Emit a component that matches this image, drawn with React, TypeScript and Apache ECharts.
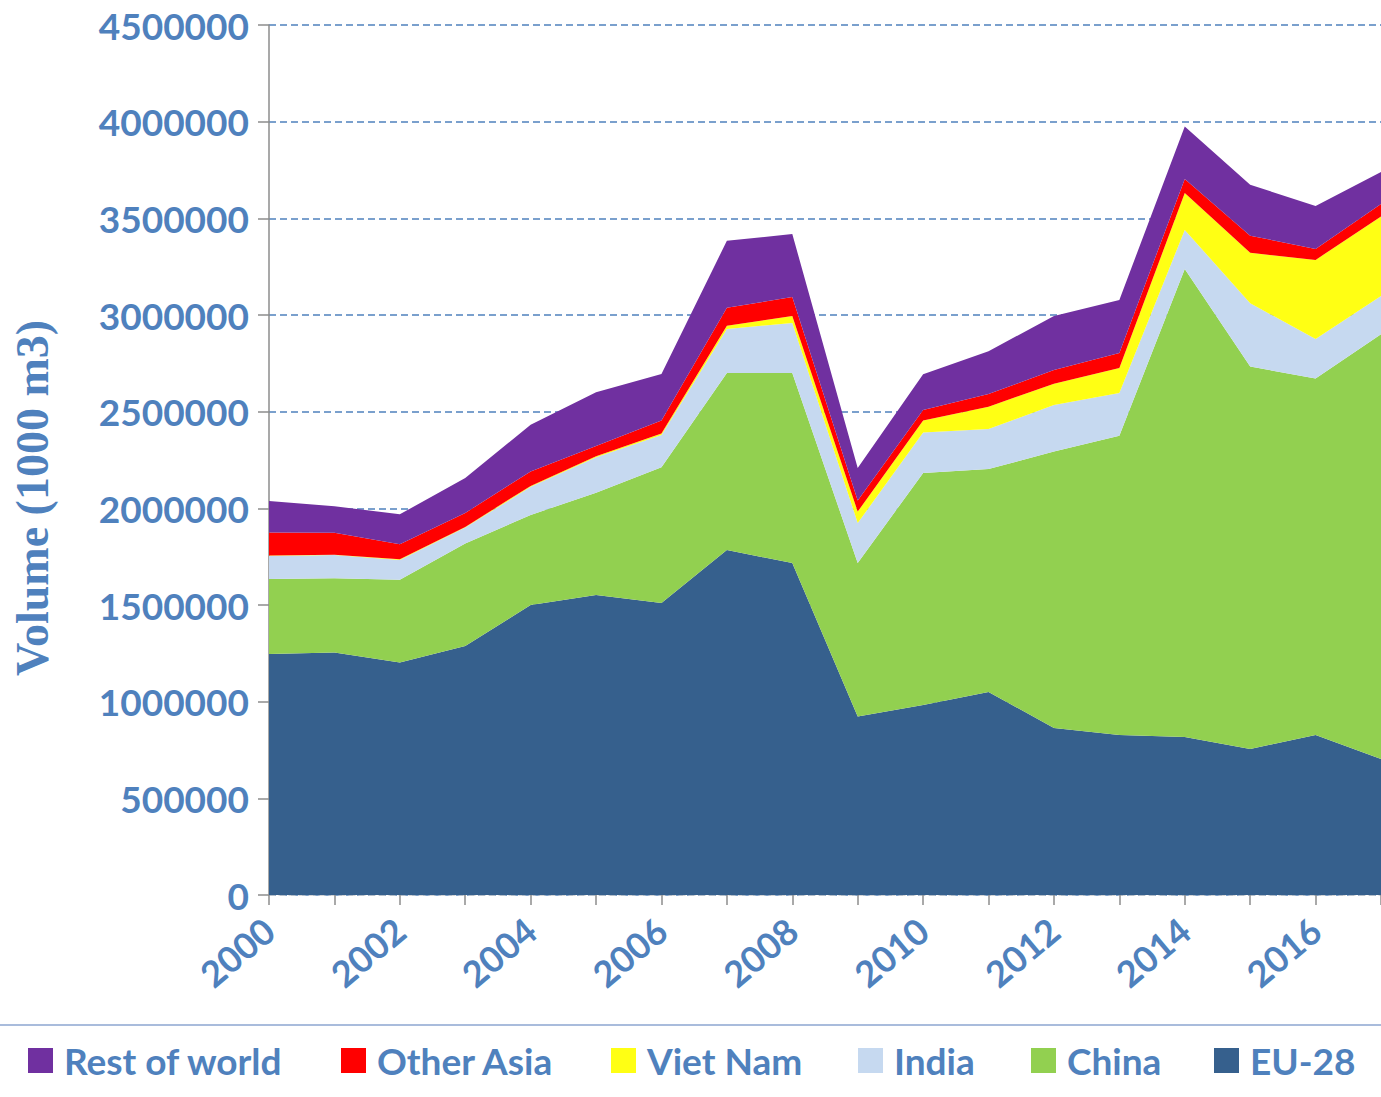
import React, { useEffect, useRef } from "react";
import * as echarts from "echarts";

const years = ["2000","2001","2002","2003","2004","2005","2006","2007","2008","2009","2010","2011","2012","2013","2014","2015","2016","2017"];

const eu28 = [1247000,1254000,1203000,1288000,1500000,1552000,1510000,1784000,1717000,923000,983000,1050000,864000,828000,817000,755000,828000,703000];
const china = [388000,385000,427000,530000,466000,528000,703000,916000,983000,794000,1200000,1153000,1430000,1547000,2421000,1978000,1844000,2198000];
const india = [119000,119000,103000,83000,145000,184000,166000,228000,259000,207000,209000,207000,241000,222000,202000,328000,204000,197000];
const vietNam = [2000,2000,3000,3000,5000,5000,8000,16000,36000,59000,62000,116000,109000,129000,191000,261000,409000,411000];
const otherAsia = [119000,114000,78000,72000,75000,54000,67000,93000,98000,57000,54000,65000,72000,78000,72000,88000,57000,65000];
const restOfWorld = [163000,137000,155000,181000,241000,277000,241000,347000,326000,168000,186000,222000,279000,274000,272000,264000,222000,166000];

const seriesNames = ["EU-28", "China", "India", "Viet Nam", "Other Asia", "Rest of world"];
const seriesData = [eu28, china, india, vietNam, otherAsia, restOfWorld];
const seriesColors = ["#36608d", "#92d050", "#c6d9f0", "#ffff14", "#ff0000", "#7030a0"];

const legendOrder = ["Rest of world", "Other Asia", "Viet Nam", "India", "China", "EU-28"];
const legendLeft = [28, 341, 611, 858, 1031, 1214];

const BLUE = "#4f81bd";
const FONT = "Lato";

export default function App() {
  const ref = useRef<HTMLDivElement>(null);
  useEffect(() => {
    if (!ref.current) return;
    const chart = echarts.init(ref.current, null, { renderer: "svg" });
    const legends = legendOrder.map((name, i) => ({
      data: [name],
      left: legendLeft[i],
      top: 1042,
      orient: "horizontal",
      itemWidth: 25,
      itemHeight: 25,
      icon: "rect",
      padding: 0,
      selectedMode: false,
      textStyle: {
        color: BLUE,
        fontFamily: FONT,
        fontWeight: "bold",
        fontSize: 37,
        padding: [0, 0, 0, 6],
      },
    }));
    chart.setOption({
      animation: false,
      backgroundColor: "#ffffff",
      color: seriesColors,
      grid: { left: 269, top: 25, width: 1115.6, height: 870, containLabel: false },
      legend: legends,
      xAxis: {
        type: "category",
        data: years,
        boundaryGap: false,
        axisLine: { show: true, lineStyle: { color: "#c8c8c8", width: 1.5, type: [6, 4] } },
        axisTick: { show: true, interval: 0, length: 10, lineStyle: { color: "#8c8c8c", width: 1.5 } },
        axisLabel: {
          interval: 1,
          rotate: 40,
          margin: 30,
          color: BLUE,
          fontFamily: FONT,
          fontWeight: "bold",
          fontSize: 36,
        },
        splitLine: { show: false },
      },
      yAxis: {
        type: "value",
        min: 0,
        max: 4500000,
        interval: 500000,
        axisLine: { show: true, lineStyle: { color: "#8c8c8c", width: 1.5 } },
        axisTick: { show: true, length: 11, lineStyle: { color: "#8c8c8c", width: 1.5 } },
        axisLabel: {
          margin: 20,
          color: BLUE,
          fontFamily: FONT,
          fontWeight: "bold",
          fontSize: 37,
          formatter: (v: number) => String(v),
        },
        splitLine: { show: true, lineStyle: { color: BLUE, width: 1.5, type: [7, 4] } },
      },
      graphic: [
        {
          type: "text",
          x: 32,
          y: 498,
          rotation: Math.PI / 2,
          style: {
            text: "Volume (1000 m3)",
            fill: BLUE,
            font: "bold 46px 'Liberation Serif'",
            align: "center",
            verticalAlign: "middle",
          },
        },
        {
          type: "line",
          shape: { x1: 0, y1: 1025, x2: 1381, y2: 1025 },
          style: { stroke: "#a9bcdc", lineWidth: 2 },
        },
      ],
      series: seriesNames.map((name, i) => ({
        name,
        type: "line",
        stack: "total",
        data: seriesData[i],
        symbol: "none",
        showSymbol: false,
        lineStyle: { width: 0 },
        areaStyle: { color: seriesColors[i], opacity: 1 },
        itemStyle: { color: seriesColors[i] },
        emphasis: { disabled: true },
      })),
    });
    return () => chart.dispose();
  }, []);
  return (
    <div
      ref={ref}
      style={{ position: "absolute", left: 0, top: 0, width: 1381, height: 1097 }}
    />
  );
}
